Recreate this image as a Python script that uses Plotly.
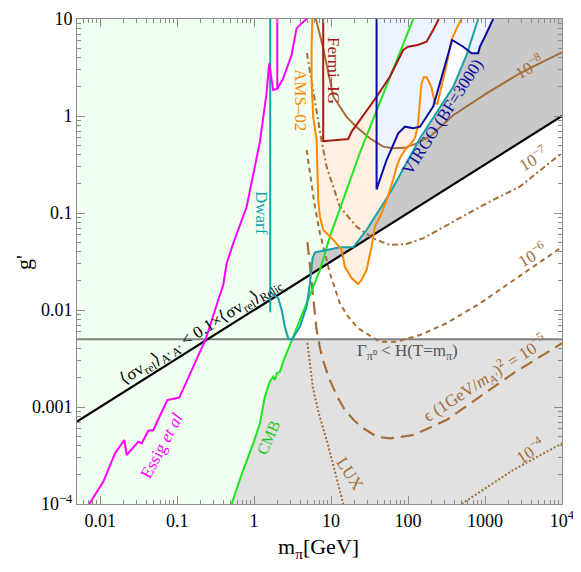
import numpy as np
import plotly.graph_objects as go

# ---------------- data (m_pi in GeV, g') ----------------
X_RANGE = [0.005, 1e4]
Y_RANGE = [1e-4, 10]

RELIC_M = [0.005, 1e4]
RELIC_G = [7.07e-4, 1.0]

HUBBLE_G = 0.005

ESSIG_M = [0.0072, 0.011, 0.0156, 0.0206, 0.0221, 0.0313, 0.0346, 0.0422, 0.049, 0.0745,
           0.1067, 0.235, 0.342, 0.397, 0.44, 0.536, 0.80, 1.19, 1.45, 1.57, 1.77, 2.0, 2.0]
ESSIG_G = [1e-4, 1.70e-4, 3.33e-4, 4.57e-4, 3.20e-4, 4.39e-4, 4.22e-4, 5.70e-4, 5.79e-4, 1.18e-3,
           1.25e-3, 5.0e-3, 0.0127, 0.0181, 0.0303, 0.0488, 0.116, 0.543, 1.71, 3.49, 1.85, 1.90, 10]
ESSIG_BRANCH_M = [2.0, 2.39, 3.07, 3.56, 3.94, 4.35, 4.8]
ESSIG_BRANCH_G = [1.90, 2.45, 4.25, 8.0, 8.7, 9.4, 10]

DWARF_LINE_M = [1.62, 1.62]
DWARF_LINE_G = [10, 0.0095]
DWARF_M = [1.69, 2.06, 2.28, 2.51, 2.77, 3.1, 3.94, 4.81, 5.31, 5.75, 6.17, 7.9, 13.0, 19.4,
           28.9, 58, 143, 386, 575, 815]
DWARF_G = [0.0149, 0.0132, 0.010, 0.00673, 0.0051, 0.00495, 0.00673, 0.0108, 0.0188, 0.0344,
           0.0392, 0.041, 0.0443, 0.0443, 0.0668, 0.16, 0.589, 2.0, 4.25, 10]

CMB_M = [0.51, 0.72, 0.975, 1.19, 1.38, 1.60, 1.77, 1.86, 1.98, 2.16, 2.39, 3.22, 5.31, 7.16,
         9.66, 24.4, 58, 117]
CMB_G = [1e-4, 2.24e-4, 4.22e-4, 6.79e-4, 1.28e-3, 1.82e-3, 2.05e-3, 1.90e-3, 2.24e-3, 2.30e-3,
         2.93e-3, 5.3e-3, 0.0149, 0.0258, 0.057, 0.446, 2.5, 10]

FERMI_M = [7.9, 7.9, 16.7, 18.5, 39, 58, 86.5, 100, 134, 174, 212, 251]
FERMI_G = [10, 0.55, 0.58, 0.69, 1.58, 2.54, 4.79, 5.18, 5.4, 5.83, 7.7, 10]

AMS_M = [5.71, 5.58, 5.58, 5.86, 6.49, 6.8, 7.16, 7.9, 10.7, 13.7, 15.1, 18.5, 22.5, 24.9, 28.9,
         33.6, 37.1, 45.3, 52.6, 64.1, 71, 78.3, 91, 106, 123, 134, 143, 149, 160, 175, 201, 223,
         240, 272, 316, 367, 427, 495]
AMS_G = [10, 4.99, 2.26, 0.98, 0.566, 0.136, 0.0916, 0.0668, 0.0527, 0.0416, 0.0279, 0.0212,
         0.0185, 0.0204, 0.0258, 0.045, 0.0723, 0.0993, 0.136, 0.219, 0.30, 0.366, 0.446, 0.502,
         0.593, 0.789, 1.46, 2.14, 2.52, 2.5, 1.99, 1.36, 1.33, 1.99, 3.36, 6.08, 8.0, 10]

VIRGO_M = [39, 39, 52.6, 74.5, 91, 117, 143, 174, 212, 259, 316, 374, 520, 668, 815, 857, 995, 1275]
VIRGO_G = [10, 0.1755, 0.352, 0.664, 0.776, 0.747, 0.776, 0.985, 1.25, 2.17, 3.78, 6.08, 5.18,
           4.43, 4.43, 5.18, 6.57, 10]

EPS8_M = [6.35, 7.9, 10.7, 15.9, 21.4, 31.9, 47.5, 64, 91, 129, 192, 386, 1047, 2830, 6300, 1e4]
EPS8_G = [10, 4.99, 1.58, 0.98, 0.77, 0.589, 0.483, 0.465, 0.47, 0.523, 0.612, 1.02, 1.71, 2.75,
          3.78, 4.52]

EPS7_M = [4.85, 5.58, 6.49, 7.53, 8.75, 13.0, 21.4, 35.2, 58, 95.7, 157, 386, 1047, 2830, 1e4]
EPS7_G = [4.46, 2.26, 1.02, 0.552, 0.30, 0.116, 0.0723, 0.0548, 0.0468, 0.0479, 0.0548, 0.0813,
          0.126, 0.187, 0.416]

EPS6_M = [4.81, 5.31, 6.17, 7.16, 8.32, 9.66, 11.2, 13.0, 16.7, 22.5, 43, 71, 143, 316, 857, 2317, 1e4]
EPS6_G = [0.446, 0.257, 0.116, 0.0618, 0.0385, 0.0239, 0.0167, 0.0117, 0.0085, 0.00648, 0.00471,
          0.00471, 0.00552, 0.0073, 0.0117, 0.0201, 0.0446]

EPS5_M = [4.93, 5.31, 5.75, 6.49, 7.26, 8.07, 9.38, 11.9, 15.1, 19.8, 25.9, 39, 58, 117, 316, 857,
          2317, 1e4]
EPS5_G = [0.0502, 0.0279, 0.0137, 0.00622, 0.00387, 0.00284, 0.00199, 0.0013, 9.3e-4, 7.3e-4,
          6.08e-4, 4.94e-4, 4.75e-4, 5.14e-4, 7.34e-4, 1.28e-3, 2.22e-3, 4.54e-3]

LUX_M = [4.93, 5.31, 5.81, 6.95, 8.75, 10.9, 14.4]
LUX_G = [4.57e-3, 2.82e-3, 1.57e-3, 8.47e-4, 4.57e-4, 2.35e-4, 1e-4]

EPS4_M = [495, 2317, 1e4]
EPS4_G = [1e-4, 2.24e-4, 4.22e-4]

X_TICKS = [0.01, 0.1, 1, 10, 100, 1000, 1e4]
X_TICK_TEXT = ["0.01", "0.1", "1", "10", "100", "1000", "10<sup>4</sup>"]
Y_TICKS = [1e-4, 1e-3, 0.01, 0.1, 1, 10]
Y_TICK_TEXT = ["10<sup>\u22124</sup>", "0.001", "0.01", "0.1", "1", "10"]

# ---------------- styling ----------------
SERIF = "Liberation Serif, Times New Roman, serif"
BROWN = "#a36e38"
OFF = 8  # page body margin around the plotly div
PAGE_W, PAGE_H = 581, 572
W_FIG, H_FIG = PAGE_W - OFF, PAGE_H - OFF
# plot frame wanted at page pixels x 77..562, y 19..504
X0, X1, Y0, Y1 = 77, 562, 19, 504
L, T = X0 - OFF, Y0 - OFF
R, B = W_FIG - (X1 - OFF), H_FIG - (Y1 - OFF)
PW, PH = X1 - X0, Y1 - Y0

fig = go.Figure()


def area(xs, ys, color):
    fig.add_trace(go.Scatter(x=list(xs), y=list(ys), mode="lines", fill="toself",
                             fillcolor=color, line=dict(width=0), hoverinfo="skip"))


def curve(xs, ys, color, width=2, dash="solid"):
    fig.add_trace(go.Scatter(x=list(xs), y=list(ys), mode="lines",
                             line=dict(color=color, width=width, dash=dash), hoverinfo="skip"))


# light gray: below the Hubble line
area([X_RANGE[0], X_RANGE[1], X_RANGE[1], X_RANGE[0]],
     [Y_RANGE[0], Y_RANGE[0], HUBBLE_G, HUBBLE_G], "#e1e1e1")
# light green: left of CMB line
area([X_RANGE[0], X_RANGE[0]] + CMB_M[::-1], [Y_RANGE[0], Y_RANGE[1]] + CMB_G[::-1], "#f0fff0")
# peach: inside AMS, below Fermi
area(AMS_M[4:27] + FERMI_M[5:0:-1], AMS_G[4:27] + FERMI_G[5:0:-1], "#fff0e2")

# dark gray: above relic line, right of dwarf line
lm, lg = np.log10(DWARF_M), np.log10(DWARF_G)
rel = np.interp(lm, np.log10(RELIC_M), np.log10(RELIC_G))
d = lg - rel
k = next(i for i in range(1, len(d)) if d[i - 1] < 0 <= d[i])
t = d[k - 1] / (d[k - 1] - d[k])
cm = 10 ** (lm[k - 1] + t * (lm[k] - lm[k - 1]))
cg = 10 ** (lg[k - 1] + t * (lg[k] - lg[k - 1]))
area([cm] + DWARF_M[k:] + [X_RANGE[1], X_RANGE[1]],
     [cg] + DWARF_G[k:] + [Y_RANGE[1], RELIC_G[1]], "#c9c9c9")

# light blue: VIRGO
area(VIRGO_M, VIRGO_G, "#ecf4ff")

# lines
curve(X_RANGE, [HUBBLE_G, HUBBLE_G], "#808080", 2)
curve(RELIC_M, RELIC_G, "black", 2.2)
curve(EPS8_M, EPS8_G, BROWN, 2)
curve(EPS7_M, EPS7_G, BROWN, 2, "6px,3px,2px,3px")
curve(EPS6_M, EPS6_G, BROWN, 2, "5px,4px")
curve(EPS5_M, EPS5_G, BROWN, 2.2, "13px,7px")
curve(LUX_M, LUX_G, BROWN, 2, "2px,2px")
curve(EPS4_M, EPS4_G, BROWN, 2, "2px,2px")
curve(CMB_M, CMB_G, "#1ee61e", 2)
curve(DWARF_LINE_M, DWARF_LINE_G, "#16a0a8", 2)
curve(DWARF_M, DWARF_G, "#16a0a8", 2)
curve(ESSIG_M, ESSIG_G, "#ff00ff", 2)
curve(ESSIG_BRANCH_M, ESSIG_BRANCH_G, "#ff00ff", 2)
curve(FERMI_M, FERMI_G, "#a81616", 2)
curve(AMS_M, AMS_G, "#ff8800", 2)
curve(VIRGO_M, VIRGO_G, "#0c0ca0", 2)


def ann(text, px, py, color, angle=0, size=17):
    # px, py: wanted centre in page pixels
    return dict(text=text, x=(px - X0) / PW, y=(Y1 - py) / PH, xref="paper", yref="paper",
                showarrow=False, textangle=angle, xanchor="center", yanchor="middle",
                font=dict(color=color, size=size, family=SERIF))


annotations = [
    ann("Fermi\u2013IG", 333, 70, "#a81616", 90),
    ann("AMS\u201302", 300, 100, "#ff8800", 90),
    ann("Dwarf", 262, 213, "#16a0a8", 90),
    ann("Essig <i>et al</i>", 161, 446, "#ff00ff", -62),
    ann("CMB", 268, 437, "#1ec81e", -66, 16),
    ann("VIRGO (BF=3000)", 443, 117, "#0c0ca0", -57),
    ann("10<sup>\u22128</sup>", 529, 66, BROWN, -30),
    ann("10<sup>\u22127</sup>", 533, 158, BROWN, -30),
    ann("10<sup>\u22126</sup>", 532, 254, BROWN, -30),
    ann("\u03f5 (1GeV/<i>m<sub>A'</sub></i>)<sup>2</sup> = 10<sup>\u22125</sup>", 485, 378, BROWN, -33),
    ann("10<sup>\u22124</sup>", 530, 450, BROWN, -33),
    ann("LUX", 350, 473, BROWN, 57),
    ann("\u0393<sub>\u03c0\u2070</sub> &lt; H(T=m<sub>\u03c0</sub>)", 407, 352, "#555555", 0),
    ann("\u27e8\u03c3v<sub>rel</sub>\u27e9<sub>A' A'</sub> &lt; 0.1\u00d7\u27e8\u03c3v<sub>rel</sub>\u27e9<sub>Relic</sub>",
        201, 332, "black", -32),
    ann("g'", 23, 263, "black", -90, 22),
    ann("m<sub>\u03c0</sub>[GeV]", 318, 548, "black", 0, 22),
]


def minor_vals(lo, hi):
    vals = []
    for e in range(int(np.floor(np.log10(lo))), int(np.ceil(np.log10(hi))) + 1):
        for m in range(2, 10):
            v = m * 10.0 ** e
            if lo <= v <= hi:
                vals.append(v)
    return vals


axis_common = dict(type="log", showgrid=False, zeroline=False, showline=True, linecolor="#8c8c8c",
                   linewidth=1, mirror="allticks", ticks="inside", ticklen=8, tickcolor="#8c8c8c",
                   tickfont=dict(family=SERIF, size=18, color="black"), tickmode="array",
                   automargin=False, ticklabeloverflow="allow")

fig.update_layout(
    width=W_FIG, height=H_FIG, margin=dict(l=L, r=R, t=T, b=B, autoexpand=False),
    plot_bgcolor="white", paper_bgcolor="white", showlegend=False,
    xaxis=dict(range=[np.log10(X_RANGE[0]), np.log10(X_RANGE[1])], tickvals=X_TICKS,
               ticktext=X_TICK_TEXT,
               minor=dict(tickmode="array", tickvals=minor_vals(*X_RANGE), ticks="inside",
                          ticklen=4, tickcolor="#8c8c8c", showgrid=False),
               **axis_common),
    yaxis=dict(range=[np.log10(Y_RANGE[0]), np.log10(Y_RANGE[1])], tickvals=Y_TICKS,
               ticktext=Y_TICK_TEXT,
               minor=dict(tickmode="array", tickvals=minor_vals(*Y_RANGE), ticks="inside",
                          ticklen=4, tickcolor="#8c8c8c", showgrid=False),
               **axis_common),
    annotations=annotations,
)

fig.write_html("out.html")
